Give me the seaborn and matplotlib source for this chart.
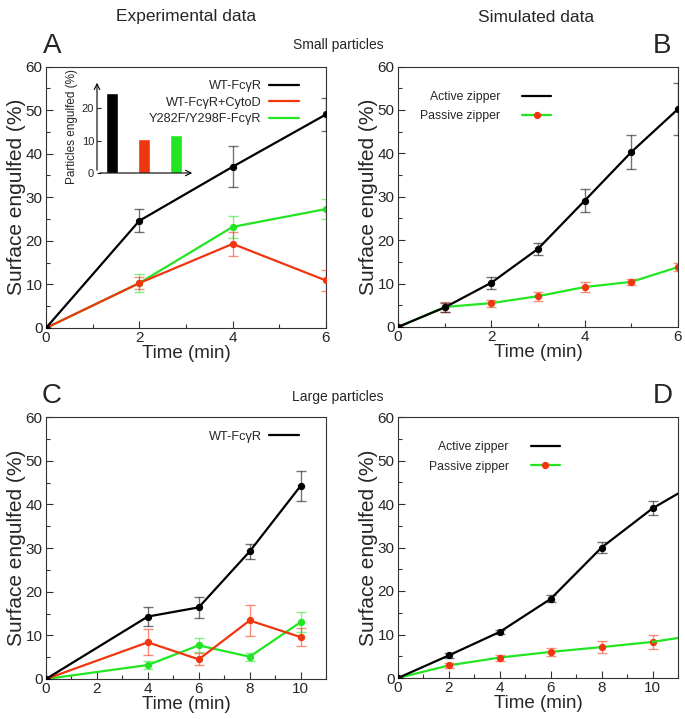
import numpy as np
import pandas as pd
import seaborn as sns
import matplotlib.pyplot as plt

sns.set_style("white")
plt.rcParams['font.family'] = ['Liberation Sans', 'DejaVu Sans']

BLACK = "#000000"
RED = "#f0360f"
GREEN = "#22e622"

# ---- Panel A: experimental, small particles ----
a_time = [0, 2, 4, 6]
a_wt = [0, 24.6, 37.0, 49.0]
a_wt_err = [0, 2.6, 4.7, 3.8]
a_cyto = [0, 10.3, 19.3, 10.9]
a_cyto_err = [0, 1.4, 2.8, 2.3]
a_mut = [0, 10.3, 23.2, 27.3]
a_mut_err = [0, 2.0, 2.5, 2.3]

# inset bars
inset_groups = ["WT", "CytoD", "Y282F/Y298F"]
inset_values = [24.6, 10.6, 11.7]

# ---- Panel B: simulated, small particles ----
b_time = [0, 1, 2, 3, 4, 5, 6]
b_active = [0, 4.5, 10.2, 18.0, 29.1, 40.3, 50.2]
b_active_err = [0, 1.0, 1.4, 1.4, 2.7, 4.0, 6.0]
b_passive = [0, 4.6, 5.5, 7.1, 9.2, 10.4, 13.8]
b_passive_err = [0, 1.2, 0.8, 1.0, 1.2, 0.7, 1.0]

# ---- Panel C: experimental, large particles ----
c_time = [0, 4, 6, 8, 10]
c_wt = [0, 14.3, 16.4, 29.2, 44.2]
c_wt_err = [0, 2.1, 2.4, 1.7, 3.4]
c_cyto = [0, 8.4, 4.5, 13.4, 9.6]
c_cyto_err = [0, 3.0, 1.4, 3.5, 2.0]
c_mut = [0, 3.2, 7.7, 5.1, 13.0]
c_mut_err = [0, 0.9, 1.6, 0.9, 2.3]

# ---- Panel D: simulated, large particles ----
d_time = [0, 2, 4, 6, 8, 10]
d_active = [0, 5.2, 10.6, 18.2, 30.0, 39.0]
d_active_err = [0, 0.5, 0.5, 0.8, 1.2, 1.6]
d_passive = [0, 2.9, 4.7, 6.0, 7.1, 8.3]
d_passive_err = [0, 0.6, 0.7, 0.9, 1.4, 1.6]
# curves continue to the right edge (t = 11)
d_tail_time = [10, 11]
d_active_tail = [39.0, 42.4]
d_passive_tail = [8.3, 9.2]

fig = plt.figure(figsize=(6.85, 7.19), dpi=100)
W, H = 685, 719


def px_axes(left, right, top, bottom):
    return fig.add_axes([left / W, 1 - bottom / H, (right - left) / W, (bottom - top) / H])


axA = px_axes(46, 326, 66.5, 328)
axB = px_axes(398, 678, 66.5, 327)
axC = px_axes(46, 326, 417, 679)
axD = px_axes(398, 678, 417, 678)


def series(ax, t, y, err, color, label, mfc=None, z=2):
    df = pd.DataFrame({"t": t, "y": y})
    mfc = mfc or color
    sns.lineplot(data=df, x="t", y="y", ax=ax, color=color, lw=1.6, marker="o",
                 markersize=4.5, markerfacecolor=mfc, markeredgecolor=mfc,
                 label=label, zorder=z)
    ax.errorbar(t, y, yerr=err, fmt="none", ecolor=mfc, elinewidth=1.0,
                capsize=3.5, alpha=0.55, zorder=z)


def style(ax, xmax, xmajor):
    ax.set_xlim(0, xmax)
    ax.set_ylim(0, 60)
    ax.set_xticks(np.arange(0, xmax + 0.01, xmajor))
    ax.set_xticks(np.arange(0, xmax + 0.01, xmajor / 2), minor=True)
    ax.set_yticks(np.arange(0, 61, 10))
    ax.set_yticks(np.arange(0, 61, 5), minor=True)
    ax.tick_params(which="both", direction="in", top=False, right=False,
                   bottom=True, left=True, labelsize=11, color="#333333")
    ax.tick_params(axis="x", pad=2.5)
    ax.tick_params(axis="y", pad=2.5)
    ax.tick_params(which="major", length=5, width=0.8)
    ax.tick_params(which="minor", length=3, width=0.8)
    for s in ax.spines.values():
        s.set_linewidth(0.8)
        s.set_color("#333333")
    ax.set_xlabel("Time (min)", fontsize=13.5, labelpad=0)
    ax.set_ylabel("Surface engulfed (%)", fontsize=15, labelpad=0)


# A
series(axA, a_time, a_wt, a_wt_err, BLACK, "WT-FcγR", z=4)
series(axA, a_time, a_mut, a_mut_err, GREEN, "Y282F/Y298F-FcγR", z=2)
series(axA, a_time, a_cyto, a_cyto_err, RED, "WT-FcγR+CytoD", z=3)
style(axA, 6, 2)
h, l = axA.get_legend_handles_labels()
order = [l.index("WT-FcγR"), l.index("WT-FcγR+CytoD"), l.index("Y282F/Y298F-FcγR")]
axA.legend([h[i] for i in order], [l[i] for i in order], loc="upper right",
           bbox_to_anchor=(0.925, 0.972), frameon=False, markerfirst=False,
           fontsize=9.2, handlelength=2.3, borderpad=0, labelspacing=0.35,
           handletextpad=0.6)
for ln in axA.get_legend().get_lines():
    ln.set_marker("")

# inset
axI = px_axes(97, 195, 80, 173)
sns.barplot(x=inset_groups, y=inset_values, hue=inset_groups,
            palette=[BLACK, RED, GREEN], ax=axI, width=0.38, legend=False,
            saturation=1)
axI.set_xlim(-0.47, 2.6)
axI.set_ylim(0, 28.7)
axI.set_xticks([])
axI.set_yticks([0, 10, 20])
axI.tick_params(axis="y", direction="in", length=3, labelsize=8, pad=2, left=True)
for s in axI.spines.values():
    s.set_visible(False)
axI.patch.set_alpha(0)
axI.annotate("", xy=(1, 0), xytext=(0, 0), xycoords="axes fraction",
             arrowprops=dict(arrowstyle="->", lw=0.8, color="black"))
axI.annotate("", xy=(0, 1), xytext=(0, 0), xycoords="axes fraction",
             arrowprops=dict(arrowstyle="->", lw=0.8, color="black"))
axI.set_ylabel("Particles engulfed (%)", fontsize=8.5, labelpad=3)

# B
series(axB, b_time, b_passive, b_passive_err, GREEN, "Passive zipper", mfc=RED, z=2)
series(axB, b_time, b_active, b_active_err, BLACK, "Active zipper", z=3)
style(axB, 6, 2)
h, l = axB.get_legend_handles_labels()
axB.legend(h[::-1], l[::-1], loc="upper right", bbox_to_anchor=(0.57, 0.93),
           frameon=False, markerfirst=False, fontsize=8.8, handlelength=2.4,
           borderpad=0, labelspacing=0.6, handletextpad=1.8)
axB.get_legend().get_lines()[0].set_marker("")

# C
series(axC, c_time, c_wt, c_wt_err, BLACK, "WT-FcγR", z=4)
series(axC, c_time, c_mut, c_mut_err, GREEN, None, z=2)
series(axC, c_time, c_cyto, c_cyto_err, RED, None, z=3)
style(axC, 11, 2)
axC.set_xticks(np.arange(0, 11.01, 1), minor=True)
h, l = axC.get_legend_handles_labels()
axC.legend(h[:1], l[:1], loc="upper right", bbox_to_anchor=(0.925, 0.972),
           frameon=False, markerfirst=False, fontsize=9.2, handlelength=2.3,
           borderpad=0, handletextpad=0.6)
axC.get_legend().get_lines()[0].set_marker("")

# D
series(axD, d_time, d_passive, d_passive_err, GREEN, "Passive zipper", mfc=RED, z=2)
series(axD, d_time, d_active, d_active_err, BLACK, "Active zipper", z=3)
sns.lineplot(x=d_tail_time, y=d_passive_tail, ax=axD, color=GREEN, lw=1.6, zorder=2)
sns.lineplot(x=d_tail_time, y=d_active_tail, ax=axD, color=BLACK, lw=1.6, zorder=3)
style(axD, 11, 2)
axD.set_xticks(np.arange(0, 11.01, 1), minor=True)
h, l = axD.get_legend_handles_labels()
axD.legend(h[:2][::-1], l[:2][::-1], loc="upper right", bbox_to_anchor=(0.6, 0.93),
           frameon=False, markerfirst=False, fontsize=8.8, handlelength=2.4,
           borderpad=0, labelspacing=0.6, handletextpad=1.8)
axD.get_legend().get_lines()[0].set_marker("")

# headings and panel letters
fig.text(186 / W, 1 - 17 / H, "Experimental data", fontsize=12.5, ha="center", va="center")
fig.text(536 / W, 1 - 17 / H, "Simulated data", fontsize=12.5, ha="center", va="center")
fig.text(338 / W, 1 - 45 / H, "Small particles", fontsize=10, ha="center", va="center")
fig.text(338 / W, 1 - 397 / H, "Large particles", fontsize=10, ha="center", va="center")
for letter, x, y in [("A", 52, 46), ("B", 662, 46), ("C", 52, 396), ("D", 663, 396)]:
    fig.text(x / W, 1 - y / H, letter, fontsize=20, ha="center", va="center")

fig.savefig("out.png", dpi=100)
